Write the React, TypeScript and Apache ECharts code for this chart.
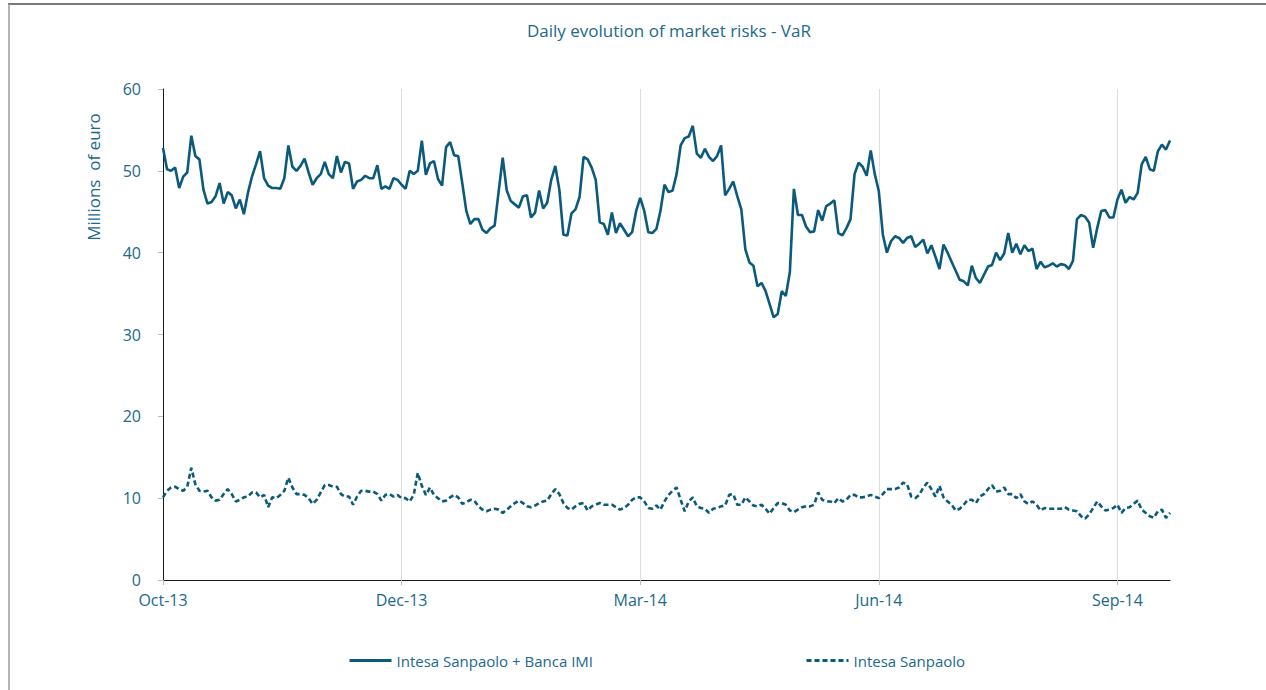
import React, { useEffect, useRef } from 'react';
import * as echarts from 'echarts';

const chartTitle = 'Daily evolution of market risks - VaR';
const yAxisTitle = 'Millions  of euro';
const seriesNames = ['Intesa Sanpaolo + Banca IMI', 'Intesa Sanpaolo'];
const tickLabels = ['Oct-13', 'Dec-13', 'Mar-14', 'Jun-14', 'Sep-14'];
const tickStep = 59;

// Intesa Sanpaolo + Banca IMI (solid)
const groupVaR = [
  52.8, 50.2, 50.0, 50.4, 47.9, 49.3, 49.8, 54.3, 51.8, 51.4,
  47.7, 46.0, 46.2, 46.9, 48.5, 46.0, 47.4, 47.0, 45.4, 46.5,
  44.7, 47.3, 49.3, 50.8, 52.4, 49.1, 48.2, 47.9, 47.9, 47.8,
  49.1, 53.1, 50.5, 50.0, 50.6, 51.5, 49.8, 48.3, 49.1, 49.6,
  51.1, 49.6, 49.1, 51.8, 49.8, 51.1, 50.9, 47.8, 48.7, 48.9,
  49.4, 49.1, 49.1, 50.7, 47.8, 48.1, 47.8, 49.1, 48.9, 48.3,
  47.8,
  50.0, 49.6, 50.0, 53.7, 49.5, 50.9, 51.2, 49.0, 48.2, 52.9,
  53.5, 51.9, 51.8, 48.5, 45.1, 43.5, 44.1, 44.1, 42.8, 42.4,
  43.0, 43.3, 47.5, 51.6, 47.6, 46.3, 45.9, 45.5, 46.9, 47.0,
  44.3, 44.9, 47.6, 45.4, 46.1, 48.9, 50.6, 47.7, 42.2, 42.1,
  44.8, 45.3, 46.8, 51.7, 51.4, 50.4, 48.9, 43.7, 43.5, 42.2,
  44.9, 42.4, 43.6, 42.8, 42.0, 42.5, 45.1, 46.7, 45.1, 42.5,
  42.4, 42.9, 45.1,
  48.3, 47.4, 47.6, 49.6, 53.1, 54.0, 54.2, 55.5, 52.1, 51.6,
  52.7, 51.7, 51.2, 51.8, 53.1, 47.0, 47.8, 48.7, 46.9, 45.3,
  40.4, 38.8, 38.4, 35.9, 36.3, 35.3, 33.7, 32.1, 32.5, 35.3,
  34.7, 37.6, 47.8, 44.6, 44.6, 43.2, 42.5, 42.6, 45.2, 43.9,
  45.7, 46.0, 46.4, 42.4, 42.1, 43.0, 44.1, 49.6, 51.0, 50.5,
  49.4, 52.5, 49.6, 47.5, 42.2, 40.0, 41.4, 42.0,
  41.8, 41.2, 41.8, 42.0, 40.7, 41.1, 41.6, 39.9, 40.9, 39.5,
  38.0, 41.0, 40.0, 38.9, 37.8, 36.7, 36.5, 36.0, 38.4, 36.9,
  36.3, 37.3, 38.3, 38.5, 40.0, 39.1, 39.9, 42.4, 40.0, 41.1,
  39.8, 40.9, 40.2, 40.5, 38.0, 38.9, 38.2, 38.4, 38.7, 38.3,
  38.6, 38.5, 38.0, 39.0, 44.1, 44.6, 44.4, 43.7, 40.6, 43.0,
  45.1, 45.2, 44.3, 44.3, 46.5, 47.7, 46.1, 46.8, 46.5, 47.3,
  50.8, 51.7, 50.2, 50.0, 52.4, 53.2, 52.6, 53.7,
];

// Intesa Sanpaolo (dashed)
const parentVaR = [
  10.1, 10.9, 11.3, 11.4, 11.1, 10.9, 11.4, 13.7, 11.7, 10.9,
  10.8, 10.9, 10.1, 9.7, 9.8, 10.5, 11.1, 10.5, 9.6, 9.8,
  10.1, 10.2, 10.7, 10.7, 10.1, 10.4, 8.9, 10.1, 10.0, 10.4,
  10.9, 12.5, 11.3, 10.5, 10.5, 10.4, 10.0, 9.3, 9.8, 10.7,
  11.6, 11.6, 11.4, 11.4, 10.5, 10.2, 10.2, 9.2, 10.2, 10.9,
  10.9, 10.8, 10.8, 10.5, 9.7, 10.4, 10.5, 10.2, 10.4, 10.0,
  10.0, 9.6, 10.4, 13.1, 11.5, 10.4, 11.3, 10.4, 10.0, 9.6,
  9.7, 10.1, 10.4, 10.1, 9.3, 9.5, 9.8, 9.7, 9.0, 8.6,
  8.4, 8.6, 8.7, 8.6, 8.2, 8.6, 9.0, 9.4, 9.7, 9.4,
  9.0, 8.9, 9.1, 9.4, 9.6, 9.7, 10.5, 11.1, 10.5, 9.4,
  8.8, 8.6, 9.0, 9.3, 9.4, 8.5, 9.0, 9.2, 9.4, 9.2,
  9.2, 9.2, 8.9, 8.6, 8.8, 9.2, 9.8, 10.1, 10.1, 9.6,
  8.8, 8.7, 9.1, 8.6, 9.6, 10.4, 10.9, 11.3, 9.8, 8.4,
  9.6, 10.1, 9.0, 8.8, 8.7, 8.2, 8.7, 8.8, 9.0, 9.1,
  10.4, 10.5, 9.2, 9.2, 10.1, 9.6, 9.1, 9.0, 9.2, 8.7,
  8.1, 8.8, 9.4, 9.4, 9.2, 8.5, 8.3, 8.6, 8.9, 9.0,
  9.0, 9.2, 10.7, 9.8, 9.6, 9.6, 9.4, 10.0, 9.6, 9.8,
  10.4, 10.4, 10.1, 10.1, 10.2, 10.4, 10.2, 10.0, 10.5, 11.1,
  11.1,
  11.1, 11.3, 11.9, 11.7, 10.2, 10.0, 10.4, 11.3, 11.9, 11.1,
  10.2, 11.5, 10.1, 9.6, 9.2, 8.5, 8.7, 9.2, 9.8, 9.8,
  9.4, 10.2, 10.5, 11.1, 11.6, 10.8, 10.9, 11.3, 10.5, 10.5,
  10.0, 10.5, 9.6, 9.3, 9.6, 9.2, 8.5, 8.8, 8.7, 8.7, 8.7, 8.7,
  8.9, 8.6, 8.5, 8.4, 7.8, 7.5, 8.0, 8.8, 9.6, 9.0,
  8.5, 8.6, 8.8, 9.2, 8.2, 8.8, 8.9, 9.3, 9.7, 8.6,
  8.2, 7.8, 7.6, 8.4, 8.6, 7.6, 8.2,
];

const categories = groupVaR.map((_, i) => String(i));

const TEAL = '#21698c';
const LINE = '#0b5a7b';
const FONT = '"Open Sans", "Noto Sans", sans-serif';

export default function App() {
  const ref = useRef<HTMLDivElement>(null);
  useEffect(() => {
    if (!ref.current) return;
    const chart = echarts.init(ref.current, undefined, { renderer: 'svg' });
    const showTick = (i: number) => i % tickStep === 0 && i / tickStep < tickLabels.length;
    const legendBase = {
      top: 648,
      itemWidth: 42,
      itemHeight: 14,
      itemGap: 5,
      itemStyle: { color: 'rgba(0,0,0,0)', borderWidth: 0, opacity: 0 },
      lineStyle: { width: 3 },
      textStyle: { color: TEAL, fontSize: 15, fontFamily: FONT },
    };
    chart.setOption({
      animation: false,
      backgroundColor: '#ffffff',
      textStyle: { fontFamily: FONT },
      title: {
        text: chartTitle,
        left: 522,
        top: 17,
        textStyle: { color: TEAL, fontSize: 17, fontWeight: 'normal', fontFamily: FONT },
      },
      grid: { left: 163, right: 96, top: 89, bottom: 110, containLabel: false },
      legend: [
        { ...legendBase, data: [seriesNames[0]], left: 343 },
        { ...legendBase, data: [seriesNames[1]], left: 800 },
      ],
      xAxis: {
        type: 'category',
        data: categories,
        boundaryGap: false,
        axisLine: { show: true, lineStyle: { color: '#1a1a1a', width: 1 } },
        axisTick: { show: true, interval: (i: number) => showTick(i), length: 5, lineStyle: { color: '#bdbdbd' } },
        axisLabel: {
          interval: (i: number) => showTick(i),
          formatter: (_v: string, i: number) => tickLabels[i / tickStep] ?? '',
          color: TEAL,
          fontSize: 16,
          margin: 12,
          fontFamily: FONT,
        },
        splitLine: { show: true, interval: (i: number) => showTick(i) && i > 0, lineStyle: { color: '#dedede', width: 1 } },
      },
      yAxis: {
        type: 'value',
        min: 0,
        max: 60,
        interval: 10,
        axisLine: { show: true, lineStyle: { color: '#1a1a1a', width: 1 } },
        axisTick: { show: true, length: 5, lineStyle: { color: '#bdbdbd' } },
        axisLabel: { color: TEAL, fontSize: 16, margin: 22, fontFamily: FONT },
        splitLine: { show: false },
      },
      series: [
        {
          name: seriesNames[0],
          type: 'line',
          data: groupVaR,
          symbol: 'none',
          lineStyle: { color: LINE, width: 2.6 },
          itemStyle: { color: LINE },
        },
        {
          name: seriesNames[1],
          type: 'line',
          data: parentVaR,
          symbol: 'none',
          lineStyle: { color: LINE, width: 2.6, type: [5, 3] },
          itemStyle: { color: LINE },
        },
      ],
      graphic: [
        { type: 'line', shape: { x1: 8, y1: 4, x2: 1266, y2: 4 }, style: { stroke: '#7a7a7a', lineWidth: 2 } },
        { type: 'line', shape: { x1: 9, y1: 4, x2: 9, y2: 690 }, style: { stroke: '#9a9a9a', lineWidth: 1.5 } },
        {
          type: 'text',
          x: 93,
          y: 177,
          rotation: Math.PI / 2,
          style: {
            text: yAxisTitle,
            fill: TEAL,
            fontSize: 17,
            fontFamily: FONT,
            align: 'center',
            verticalAlign: 'middle',
          },
        },
      ],
    });
    return () => chart.dispose();
  }, []);
  return <div ref={ref} style={{ position: 'fixed', left: 0, top: 0, width: 1266, height: 690 }} />;
}
